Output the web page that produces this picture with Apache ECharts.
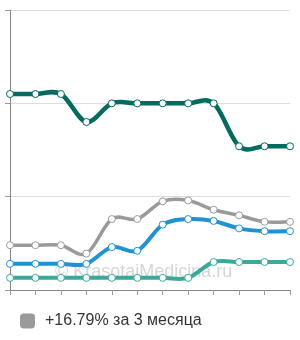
<!DOCTYPE html>
<html>
<head>
<meta charset="utf-8">
<script src="https://cdn.jsdelivr.net/npm/echarts@6/dist/echarts.min.js"></script>
<style>
  html, body { margin: 0; padding: 0; background: #fff; }
  #chart { width: 300px; height: 340px; }
</style>
</head>
<body>
<div id="chart"></div>
<script>
  // 12 точек по оси X, подписи не показываются
  const months = ['1', '2', '3', '4', '5', '6', '7', '8', '9', '10', '11', '12'];
  const yTicks = [0, 100, 200, 300];

  const darkLine = [210, 210, 210, 180, 200, 200, 200, 200, 200, 154, 154, 154];
  const grayLine = [48, 48, 48, 39, 76, 76, 95, 96, 86, 80, 73, 73];
  const blueLine = [28, 28, 28, 28, 46, 42, 70, 76, 74, 66, 63, 63];
  const greenLine = [13, 13, 13, 13, 13, 13, 13, 13, 30, 30, 30, 30];

  const legendName = '+16.79% за 3 месяца';

  let myChart = echarts.init(document.getElementById('chart'));

  // кривая Catmull-Rom через точки (как в оригинале, с небольшим выбросом)
  function curve(name, data, color, width, z) {
    return {
      name: name,
      type: 'custom',
      z: z,
      silent: true,
      data: data.map((v, i) => [i, v]),
      renderItem: function (params, api) {
        const i = params.dataIndex;
        if (i >= data.length - 1) return null;
        const pt = k => {
          const j = Math.max(0, Math.min(data.length - 1, k));
          return api.coord([j, data[j]]);
        };
        const p0 = pt(i - 1), p1 = pt(i), p2 = pt(i + 1), p3 = pt(i + 2);
        return {
          type: 'bezierCurve',
          shape: {
            x1: p1[0], y1: p1[1],
            x2: p2[0], y2: p2[1],
            cpx1: p1[0] + (p2[0] - p0[0]) / 6,
            cpy1: p1[1] + (p2[1] - p0[1]) / 6,
            cpx2: p2[0] - (p3[0] - p1[0]) / 6,
            cpy2: p2[1] - (p3[1] - p1[1]) / 6
          },
          style: { stroke: color, lineWidth: width, fill: null, lineCap: 'round' }
        };
      }
    };
  }

  function dots(name, data, color) {
    return {
      name: name,
      type: 'line',
      data: data,
      symbol: 'circle',
      symbolSize: 7,
      z: 10,
      lineStyle: { width: 0, opacity: 0 },
      itemStyle: { color: '#fff', borderColor: color, borderWidth: 1 },
      emphasis: { disabled: true }
    };
  }

  myChart.setOption({
    animation: false,
    textStyle: { fontFamily: 'Liberation Sans, Arial, sans-serif' },
    grid: { left: 10, right: 10, top: 10, bottom: 50 },
    legend: {
      data: [{ name: legendName, itemStyle: { color: '#9a9a9a', borderWidth: 0 } }],
      left: 15,
      top: 308,
      icon: 'roundRect',
      itemWidth: 15,
      itemHeight: 15,
      selectedMode: false,
      textStyle: { fontSize: 16, color: '#333', padding: [0, 0, 0, 5] }
    },
    graphic: [{
      type: 'text',
      left: 55,
      top: 263,
      z: -1,
      style: {
        text: '© KrasotaiMedicina.ru',
        fontSize: 18,
        fontFamily: 'Liberation Sans, Arial, sans-serif',
        fill: 'rgba(185,185,185,0.6)'
      }
    }],
    xAxis: {
      type: 'category',
      data: months,
      boundaryGap: false,
      axisLine: { lineStyle: { color: '#888', width: 1 } },
      axisTick: { show: true, length: 5, lineStyle: { color: '#999' } },
      axisLabel: { show: false }
    },
    yAxis: {
      type: 'value',
      min: yTicks[0],
      max: yTicks[yTicks.length - 1],
      interval: 100,
      axisLine: { show: true, lineStyle: { color: '#888' } },
      axisTick: { show: true, length: 5, lineStyle: { color: '#999' } },
      axisLabel: { show: false },
      splitLine: { lineStyle: { color: '#ddd' } }
    },
    series: [
      curve(legendName, grayLine, '#9a9a9a', 3.5, 2),
      curve('blue', blueLine, '#1f92d6', 4, 3),
      curve('green', greenLine, '#3aa99a', 4, 4),
      curve('dark', darkLine, '#006b5e', 4.5, 5),
      dots(legendName, grayLine, '#9a9a9a'),
      dots('blue', blueLine, '#1f92d6'),
      dots('green', greenLine, '#3aa99a'),
      dots('dark', darkLine, '#006b5e')
    ]
  });
</script>
</body>
</html>
